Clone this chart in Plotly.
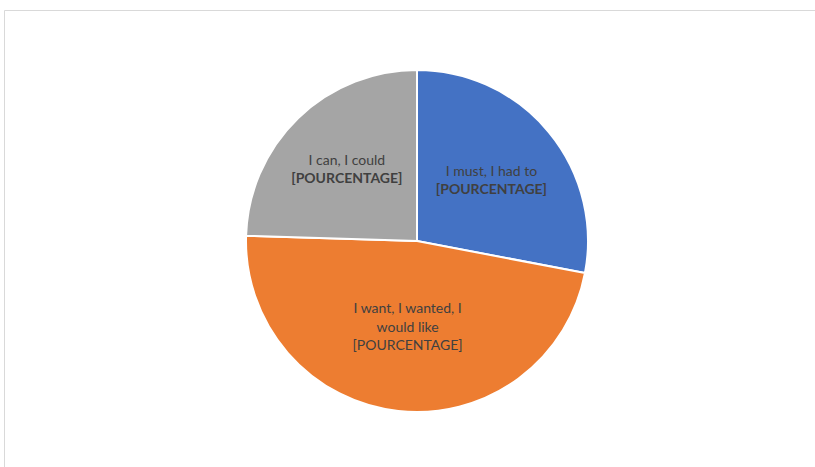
import plotly.graph_objects as go

categories = ["I must, I had to", "I want, I wanted, I would like", "I can, I could"]
values = [28, 47.5, 24.5]
label_texts = [
    "I must, I had to<br><b>[POURCENTAGE]</b>",
    "I want, I wanted, I<br>would like<br>[POURCENTAGE]",
    "I can, I could<br><b>[POURCENTAGE]</b>",
]
colors = ["#4472C4", "#ED7D31", "#A5A5A5"]

W, H = 815, 467
cx, cy, r = 417, 241, 171

fig = go.Figure(go.Pie(
    labels=categories,
    values=values,
    text=label_texts,
    textinfo="text",
    textposition="inside",
    insidetextorientation="horizontal",
    sort=False,
    direction="clockwise",
    rotation=0,
    marker=dict(colors=colors, line=dict(color="white", width=2)),
    textfont=dict(family="Lato, Open Sans, sans-serif", size=14, color="#404040"),
    showlegend=False,
    domain=dict(x=[(cx - r) / W, (cx + r) / W], y=[(H - cy - r) / H, (H - cy + r) / H]),
))

fig.update_layout(
    width=W, height=H,
    margin=dict(l=0, r=0, t=0, b=0),
    paper_bgcolor="white",
    shapes=[dict(type="rect", xref="paper", yref="paper",
                 x0=4.5 / W, x1=1.2, y0=-0.2, y1=(H - 10.5) / H,
                 line=dict(color="#D9D9D9", width=1))],
)

fig.write_html("out.html",
               config={"displayModeBar": False},
               post_script="document.body.style.margin='0';document.body.style.overflow='hidden';")
